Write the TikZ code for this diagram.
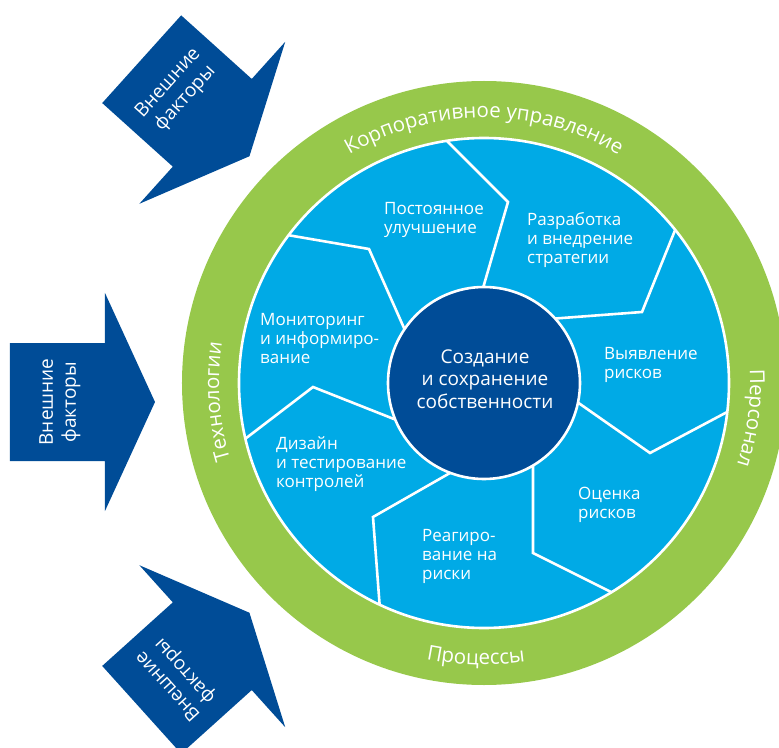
\documentclass[tikz,border=0pt]{standalone}
\usepackage{fontspec}
\setmainfont{Open Sans}
\usetikzlibrary{decorations.text}
\definecolor{ringgreen}{RGB}{151,200,75}
\definecolor{segblue}{RGB}{0,170,230}
\definecolor{darkblue}{RGB}{0,76,151}
\begin{document}
\begin{tikzpicture}[x=1pt,y=1pt,
  seglabel/.style={text=white, font=\fontsize{17}{19}\selectfont, align=left, anchor=west, inner sep=0pt},
  divider/.style={draw=white, line width=2.6pt},
  arrowshape/.style={fill=darkblue},
  arrowlabel/.style={text=white, font=\fontsize{19}{23}\selectfont, align=center, inner sep=0pt},
  ringlabel/.style={decorate, decoration={text along path, text align=center, text color=white, text={|\fontsize{20.5}{24}\selectfont|#1}}}
]
\useasboundingbox (-484,-364) rectangle (295,383);
\coordinate (C) at (0,0);
% rings
\fill[ringgreen] (C) circle (302);
\fill[segblue] (C) circle (245);
\begin{scope}
  \clip (C) circle (245);
  \draw[divider] (-76,46) -- (-115,134) -- (-220,152);
  \draw[divider] (-3,88) -- (24,181) -- (-50,255);
  \draw[divider] (65,64) -- (158,71) -- (198,170);
  \draw[divider] (86,-14) -- (166,-70) -- (262,-19);
  \draw[divider] (49,-76) -- (49,-170) -- (145,-218);
  \draw[divider] (-27,-86) -- (-111,-134) -- (-103,-240);
  \draw[divider] (-80,-40) -- (-171,-4) -- (-256,-69);
\end{scope}
\draw[white, line width=2.6pt] (C) circle (245);
\filldraw[fill=darkblue, draw=white, line width=2.6pt] (C) circle (96);
% segment labels
\node[seglabel] (improve) at (-100,163.5) {Постоянное\\улучшение};
\node[seglabel] (strategy) at (43,142.5) {Разработка\\и внедрение\\стратегии};
\node[seglabel] (identify) at (120,18) {Выявление\\рисков};
\node[seglabel] (assess) at (94,-122) {Оценка\\рисков};
\node[seglabel] (respond) at (-62,-173.5) {Реагиро-\\вание на\\риски};
\node[seglabel] (design) at (-208,-81.5) {Дизайн\\и тестирование\\контролей};
\node[seglabel] (monitor) at (-224,44.5) {Мониторинг\\и информиро-\\вание};
% centre
\node[text=white, font=\fontsize{19}{22.5}\selectfont, align=center, inner sep=0pt] (core) at (1,4) {Создание\\и сохранение\\собственности};
% ring labels
\path[ringlabel={Корпоративное управление}] (150:265) arc[start angle=150, end angle=30, radius=265];
\path[ringlabel={Персонал}] (30:266) arc[start angle=30, end angle=-45, radius=266];
\path[ringlabel={Технологии}] (220:265) arc[start angle=220, end angle=148, radius=265];
\path[ringlabel={Процессы}] (233:282) arc[start angle=233, end angle=303.6, radius=282];
% external factor arrows
\begin{scope}[shift={(-426.5,-19)}]
  \fill[arrowshape] (-47.5,59) -- (47.5,59) -- (47.5,109) -- (97.5,0) -- (47.5,-109) -- (47.5,-59) -- (-47.5,-59) -- cycle;
\end{scope}
\begin{scope}[shift={(-307,292)}, rotate=-42]
  \fill[arrowshape] (-47.5,59) -- (47.5,59) -- (47.5,109) -- (97.5,0) -- (47.5,-109) -- (47.5,-59) -- (-47.5,-59) -- cycle;
\end{scope}
\begin{scope}[shift={(-307,-295)}, rotate=42]
  \fill[arrowshape] (-47.5,59) -- (47.5,59) -- (47.5,109) -- (97.5,0) -- (47.5,-109) -- (47.5,-59) -- (-47.5,-59) -- cycle;
\end{scope}
\node[arrowlabel, rotate=90] (extleft) at (-424,-19) {Внешние\\факторы};
\node[arrowlabel, rotate=48] (exttop) at (-307,292) {Внешние\\факторы};
\node[arrowlabel, rotate=132] (extbottom) at (-307,-295) {Внешние\\факторы};
\end{tikzpicture}
\end{document}
